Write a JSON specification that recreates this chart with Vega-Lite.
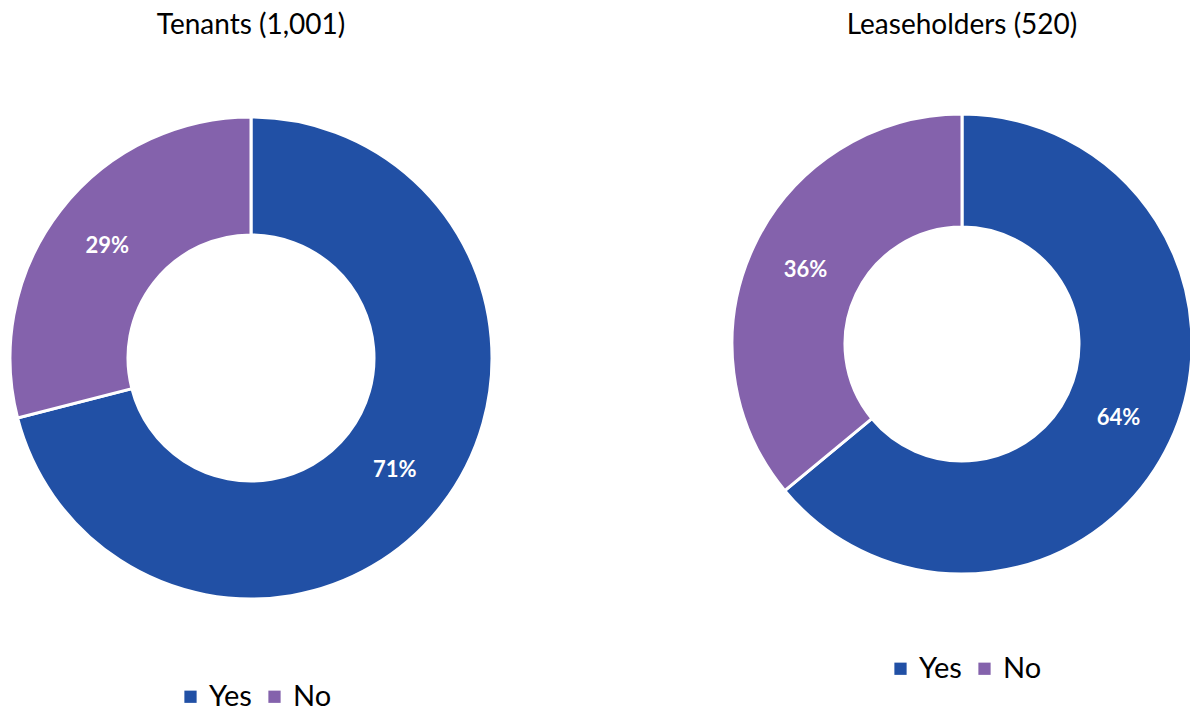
{
  "$schema": "https://vega.github.io/schema/vega-lite/v6.json",
  "padding": {"top": 12, "left": 0, "right": 0, "bottom": 0},
  "background": "white",
  "spacing": 224,
  "datasets": {
    "survey": [
      {"group": "Tenants", "answer": "Yes", "share": 0.71},
      {"group": "Tenants", "answer": "No", "share": 0.29},
      {"group": "Leaseholders", "answer": "Yes", "share": 0.64},
      {"group": "Leaseholders", "answer": "No", "share": 0.36}
    ]
  },
  "config": {
    "view": {"stroke": null},
    "font": "Lato",
    "title": {"fontSize": 28, "fontWeight": 400, "color": "#000000", "font": "Lato", "offset": 10}
  },
  "resolve": {"scale": {"color": "independent"}, "legend": {"color": "independent"}},
  "hconcat": [
    {
      "title": "Tenants (1,001)",
      "width": 502,
      "height": 616,
      "data": {"name": "survey"},
      "transform": [{"filter": "datum.group === 'Tenants'"}],
      "encoding": {
        "theta": {"field": "share", "type": "quantitative", "stack": true},
        "order": {"field": "answer", "sort": "descending"}
      },
      "layer": [
        {
          "mark": {"type": "arc", "outerRadius": 241, "innerRadius": 123, "stroke": "white", "strokeWidth": 3},
          "encoding": {
            "color": {
              "field": "answer", "type": "nominal",
              "scale": {"domain": ["Yes", "No"], "range": ["#2150A5", "#8462AC"]},
              "legend": {"title": null, "orient": "none", "direction": "horizontal", "legendX": 176, "legendY": 632,
                "symbolType": "square", "symbolSize": 150, "symbolStrokeWidth": 0, "labelFontSize": 29, "labelFont": "Lato",
                "labelColor": "#000000", "columnPadding": 8, "labelOffset": 4}
            }
          }
        },
        {
          "mark": {"type": "text", "radius": 182, "fontSize": 22, "fontWeight": "bold", "fill": "white", "font": "Lato"},
          "encoding": {"text": {"field": "share", "type": "quantitative", "format": ".0%"}, "detail": {"field": "answer"}}
        }
      ]
    },
    {
      "title": "Leaseholders (520)",
      "width": 456,
      "height": 588,
      "data": {"name": "survey"},
      "transform": [{"filter": "datum.group === 'Leaseholders'"}],
      "encoding": {
        "theta": {"field": "share", "type": "quantitative", "stack": true},
        "order": {"field": "answer", "sort": "descending"}
      },
      "layer": [
        {
          "mark": {"type": "arc", "outerRadius": 230, "innerRadius": 117, "stroke": "white", "strokeWidth": 3},
          "encoding": {
            "color": {
              "field": "answer", "type": "nominal",
              "scale": {"domain": ["Yes", "No"], "range": ["#2150A5", "#8462AC"]},
              "legend": {"title": null, "orient": "none", "direction": "horizontal", "legendX": 152, "legendY": 604,
                "symbolType": "square", "symbolSize": 150, "symbolStrokeWidth": 0, "labelFontSize": 29, "labelFont": "Lato",
                "labelColor": "#000000", "columnPadding": 8, "labelOffset": 4}
            }
          }
        },
        {
          "mark": {"type": "text", "radius": 173, "fontSize": 22, "fontWeight": "bold", "fill": "white", "font": "Lato"},
          "encoding": {"text": {"field": "share", "type": "quantitative", "format": ".0%"}, "detail": {"field": "answer"}}
        }
      ]
    }
  ]
}
